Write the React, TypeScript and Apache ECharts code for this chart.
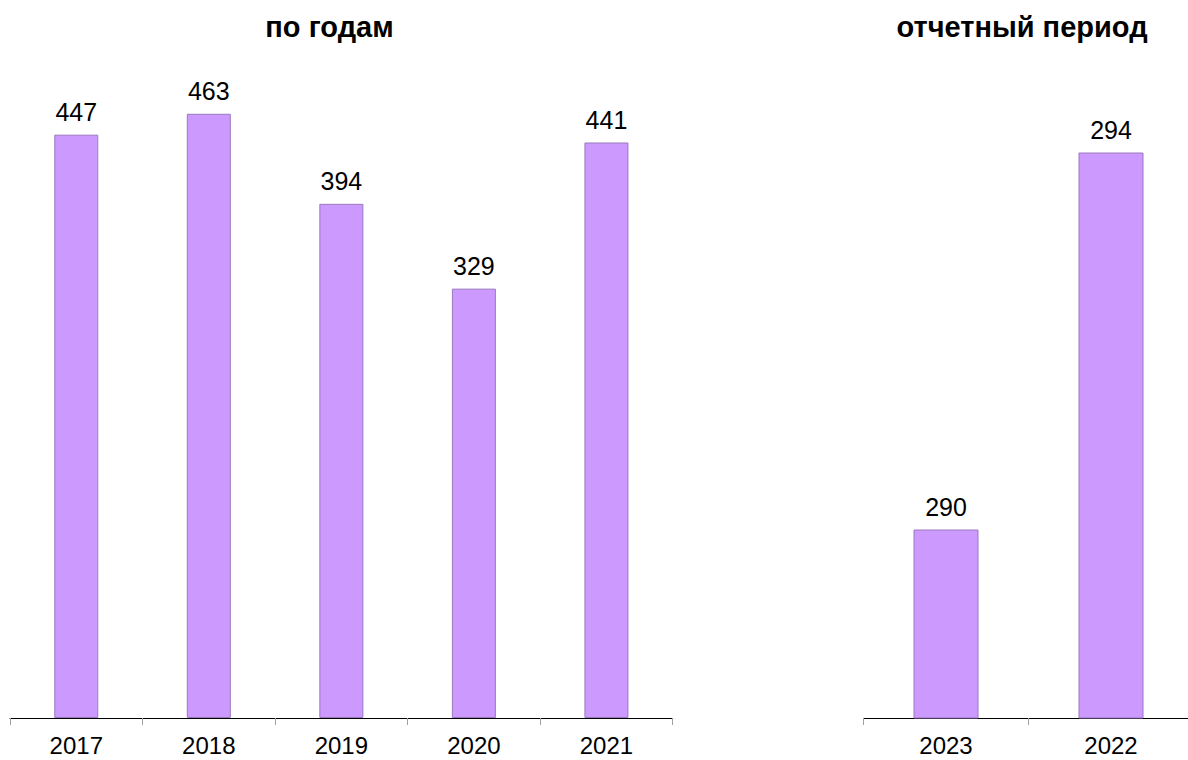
import React, { useEffect, useRef } from "react";
import * as echarts from "echarts";

const leftTitle = "по годам";
const rightTitle = "отчетный период";
const yearCategories = ["2017", "2018", "2019", "2020", "2021"];
const yearValues = [447, 463, 394, 329, 441];
const periodCategories = ["2023", "2022"];
const periodValues = [290, 294];

const FONT = "Arial, 'Liberation Sans', sans-serif";
const BAR_FILL = "#CC99FF";
const BAR_BORDER = "#9A78BE";

export default function App() {
  const ref = useRef<HTMLDivElement>(null);
  useEffect(() => {
    if (!ref.current) return;
    const chart = echarts.init(ref.current, undefined, { renderer: "svg" });
    const xAxisCommon = {
      type: "category" as const,
      axisLine: { show: true, lineStyle: { color: "#000", width: 1 } },
      axisTick: { show: true, length: 7, lineStyle: { color: "#A0A0A0" } },
      axisLabel: { color: "#000", fontSize: 24, fontFamily: FONT, margin: 15 },
      splitLine: { show: false },
    };
    const labelCommon = {
      show: true,
      position: "top" as const,
      distance: 10,
      color: "#000",
      fontSize: 25,
      fontFamily: FONT,
    };
    chart.setOption({
      animation: false,
      backgroundColor: "#fff",
      grid: [
        { left: 10, width: 662.7, top: 65.5, bottom: 42, containLabel: false },
        { left: 863.5, width: 330, top: 58.25, bottom: 42, containLabel: false },
      ],
      xAxis: [
        { ...xAxisCommon, gridIndex: 0, data: yearCategories },
        { ...xAxisCommon, gridIndex: 1, data: periodCategories },
      ],
      yAxis: [
        { type: "value", gridIndex: 0, min: 0, max: 500, show: false, splitLine: { show: false } },
        { type: "value", gridIndex: 1, min: 288, max: 295, show: false, splitLine: { show: false } },
      ],
      graphic: [
        {
          type: "text",
          x: 329.5,
          y: 27,
          style: {
            text: leftTitle,
            fontSize: 29,
            fontWeight: "bold",
            fontFamily: FONT,
            fill: "#000",
            textAlign: "center",
            textVerticalAlign: "middle",
          },
        },
        {
          type: "text",
          x: 1022,
          y: 27,
          style: {
            text: rightTitle,
            fontSize: 29,
            fontWeight: "bold",
            fontFamily: FONT,
            fill: "#000",
            textAlign: "center",
            textVerticalAlign: "middle",
          },
        },
      ],
      series: [
        {
          type: "bar",
          xAxisIndex: 0,
          yAxisIndex: 0,
          data: yearValues,
          barWidth: 44,
          itemStyle: { color: BAR_FILL, borderColor: BAR_BORDER, borderWidth: 1 },
          label: labelCommon,
        },
        {
          type: "bar",
          xAxisIndex: 1,
          yAxisIndex: 1,
          data: periodValues,
          barWidth: 65,
          itemStyle: { color: BAR_FILL, borderColor: BAR_BORDER, borderWidth: 1 },
          label: labelCommon,
        },
      ],
    });
    return () => chart.dispose();
  }, []);
  return (
    <div
      style={{
        position: "fixed",
        left: 0,
        top: 0,
        width: 1188,
        height: 760,
        overflow: "hidden",
        background: "#fff",
      }}
    >
      <div ref={ref} style={{ width: 1210, height: 760 }} />
    </div>
  );
}
